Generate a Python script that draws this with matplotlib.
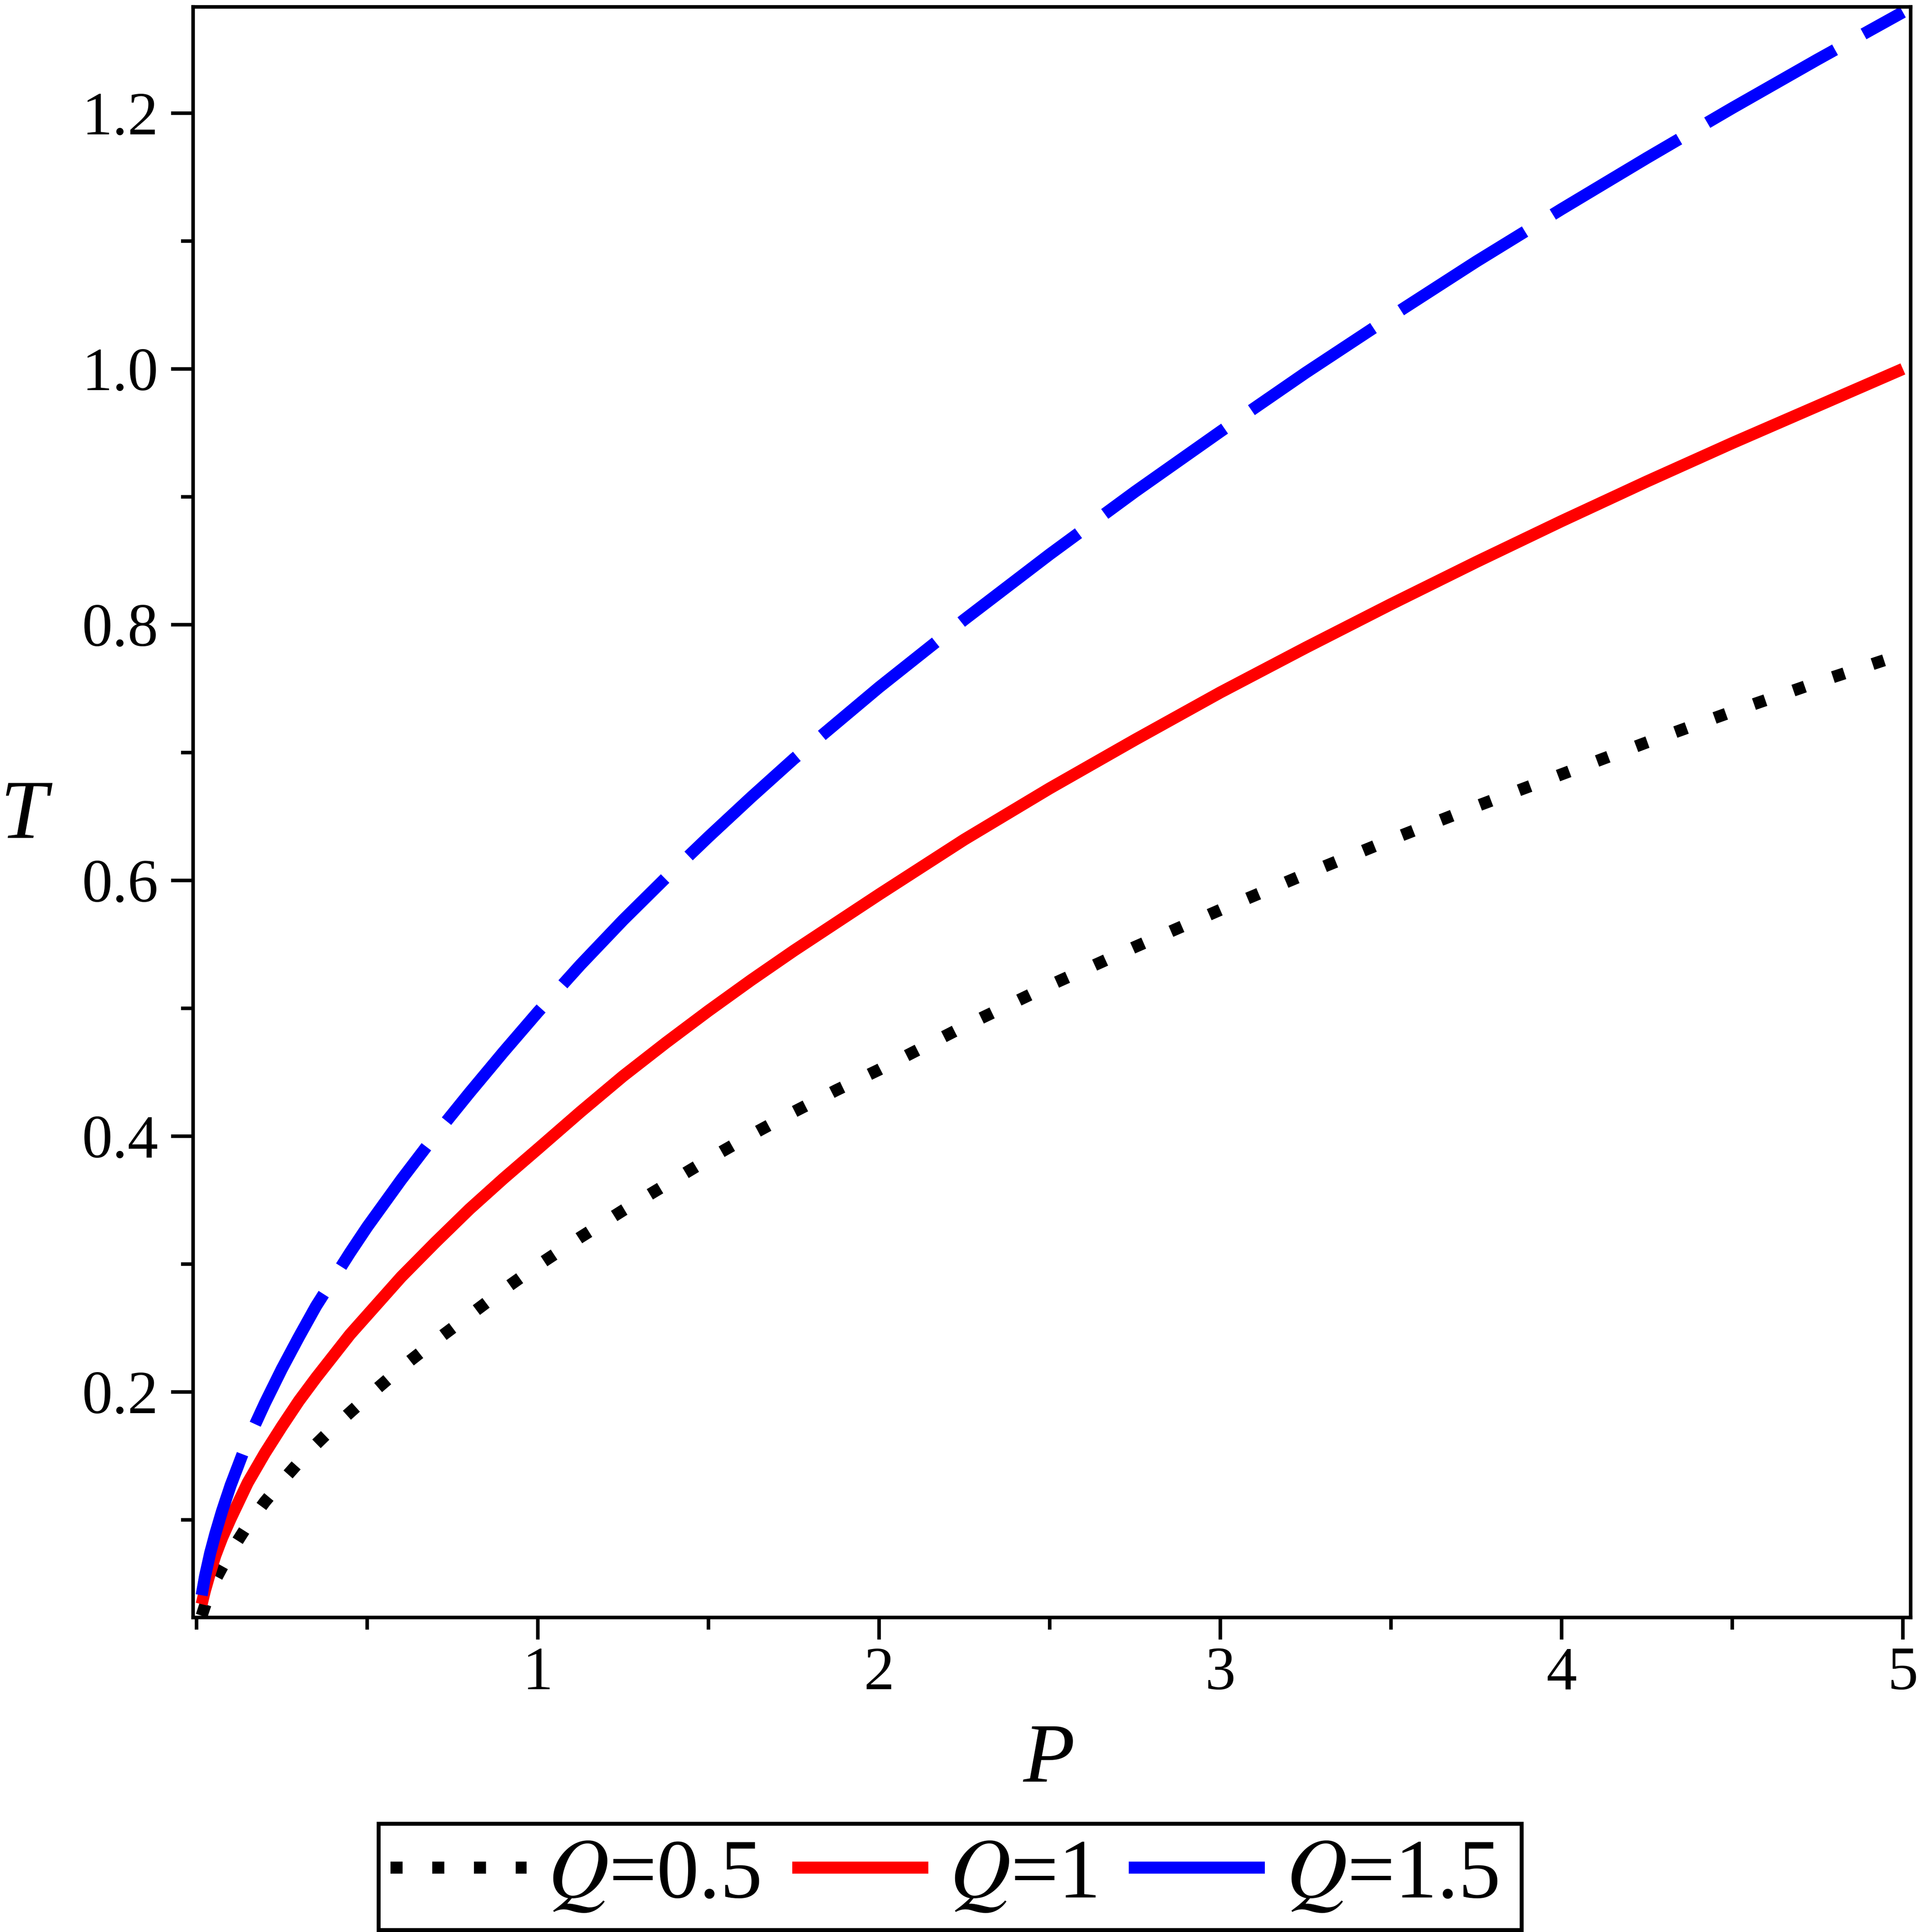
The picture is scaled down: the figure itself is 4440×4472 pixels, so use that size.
import matplotlib as mpl
mpl.use('Agg')
import matplotlib.pyplot as plt
from matplotlib.lines import Line2D
from matplotlib.patches import Rectangle
from matplotlib.ticker import MultipleLocator

plt.rcParams['font.family'] = ['Liberation Serif', 'STIXGeneral', 'DejaVu Serif']
plt.rcParams['mathtext.fontset'] = 'stix'

# values
P = [0.015, 0.025, 0.04, 0.055, 0.075, 0.1, 0.15, 0.2, 0.25, 0.3, 0.35, 0.4,
     0.45, 0.5, 0.6, 0.7, 0.8, 0.9, 1.0, 1.125, 1.25, 1.375, 1.5, 1.625,
     1.75, 1.875, 2.0, 2.25, 2.5, 2.75, 3.0, 3.25, 3.5, 3.75, 4.0, 4.25,
     4.5, 4.75, 5.0]
T_q05 = [0.025, 0.033, 0.044, 0.053, 0.063, 0.075, 0.096, 0.114, 0.130, 0.145,
         0.159, 0.172, 0.184, 0.196, 0.219, 0.240, 0.260, 0.280, 0.299, 0.321,
         0.342, 0.362, 0.382, 0.401, 0.419, 0.436, 0.452, 0.486, 0.518, 0.548,
         0.577, 0.605, 0.632, 0.658, 0.683, 0.708, 0.732, 0.755, 0.777]
T_q1 = [0.034, 0.045, 0.059, 0.072, 0.086, 0.101, 0.129, 0.152, 0.173, 0.193,
        0.211, 0.228, 0.245, 0.260, 0.290, 0.317, 0.343, 0.367, 0.390, 0.419,
        0.447, 0.473, 0.498, 0.522, 0.545, 0.567, 0.589, 0.632, 0.672, 0.710,
        0.747, 0.782, 0.816, 0.849, 0.881, 0.912, 0.942, 0.971, 1.000]
T_q15 = [0.041, 0.056, 0.074, 0.089, 0.107, 0.127, 0.162, 0.191, 0.218, 0.243,
         0.267, 0.288, 0.309, 0.329, 0.366, 0.401, 0.434, 0.466, 0.497, 0.534,
         0.569, 0.602, 0.634, 0.665, 0.695, 0.723, 0.751, 0.804, 0.855, 0.904,
         0.951, 0.997, 1.041, 1.084, 1.125, 1.165, 1.204, 1.242, 1.279]
labels = [r'$Q$=0.5', r'$Q$=1', r'$Q$=1.5']

W, H = 4440, 4472
fig = plt.figure(figsize=(W / 300, H / 300), dpi=300)
ax = fig.add_axes([447 / W, 1 - 3744 / H, (4423 - 447) / W, (3744 - 16) / H])

lw = 6.7
dot = (0, (1, 2.46))
dash = (0, (12.2, 2.7))
ax.plot(P, T_q05, color='black', lw=lw, linestyle=dot, dash_capstyle='butt')
ax.plot(P, T_q1, color='#ff0000', lw=lw, solid_capstyle='butt',
        solid_joinstyle='round')
ax.plot(P, T_q15, color='#0000ff', lw=lw, linestyle=dash, dash_capstyle='butt')

ax.set_xlim(-0.0101, 5.0228)
ax.set_ylim(0.0236, 1.2831)
ax.xaxis.set_minor_locator(MultipleLocator(0.5))
ax.yaxis.set_minor_locator(MultipleLocator(0.1))
ax.set_xticks([1, 2, 3, 4, 5])
ax.set_xticklabels(['1', '2', '3', '4', '5'])
ax.set_yticks([0.2, 0.4, 0.6, 0.8, 1.0, 1.2])
ax.set_yticklabels(['0.2', '0.4', '0.6', '0.8', '1.0', '1.2'])
ax.tick_params(which='both', direction='out', width=2, top=False, right=False,
               labelsize=34)
ax.tick_params(which='major', length=12.2)
ax.tick_params(which='minor', length=6.7)
ax.tick_params(axis='x', pad=4)
ax.tick_params(axis='y', pad=7)
for s in ax.spines.values():
    s.set_linewidth(2)

fig.text(2428 / W, 1 - 4124 / H, 'P', style='italic', fontsize=47,
         ha='center', va='baseline')
fig.text(55 / W, 1 - 1940 / H, 'T', style='italic', fontsize=47,
         ha='center', va='baseline')

# legend, with its box drawn separately
handles = [
    Line2D([], [], color='black', lw=lw, linestyle=dot, dash_capstyle='butt'),
    Line2D([], [], color='#ff0000', lw=lw, solid_capstyle='butt'),
    Line2D([], [], color='#0000ff', lw=lw, solid_capstyle='butt'),
]
fig.legend(handles, labels, ncol=3, loc='center',
           bbox_to_anchor=(2186 / W, 1 - 4344 / H), fontsize=47,
           handlelength=1.61, handletextpad=0.25, columnspacing=0.38,
           borderpad=0, frameon=False)
fig.add_artist(Rectangle((876 / W, 1 - 4467 / H), (3522 - 876) / W,
                         (4467 - 4221) / H, transform=fig.transFigure,
                         fill=False, edgecolor='black', lw=2.2))

fig.savefig('out.png', dpi=300)
